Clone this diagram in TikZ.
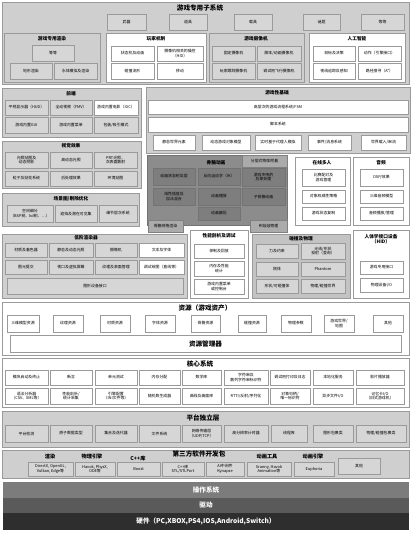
\documentclass[tikz,border=0pt]{standalone}
\usepackage{fontspec}
\setmainfont{Noto Sans CJK SC}
\definecolor{bgA}{HTML}{DADADA}
\definecolor{secg}{HTML}{CFCFCF}
\definecolor{itg}{HTML}{D6D6D6}
\definecolor{skel}{HTML}{8C8C8C}
\definecolor{skit}{HTML}{7E7E7E}
\definecolor{tabg}{HTML}{ABABAB}
\definecolor{colg}{HTML}{C3C3C3}
\definecolor{bord}{HTML}{9A9A9A}
\definecolor{osg}{HTML}{7C7C7C}
\definecolor{drg}{HTML}{5A5A5A}
\definecolor{hwg}{HTML}{2E2E2E}
\newcommand\fitm{\fontsize{3.9}{4.4}\selectfont}
\newcommand\fttl{\fontsize{4.7}{5.3}\selectfont\bfseries}
\newcommand\fbig{\fontsize{6.6}{7.2}\selectfont\bfseries}
\newcommand\bx[7][itm]{\node[#1,minimum width={#5-#3},minimum height={#6-#4}] (#2) at ({(#3+#5)/2},{(#4+#6)/2}) {#7};}
\tikzset{
 x=1pt,y=-1pt,
 sec/.style={draw=bord,fill=secg,inner sep=0},
 secw/.style={draw=bord,fill=white,inner sep=0},
 itm/.style={draw=bord,fill=itg,font=\fitm,align=center,inner sep=0.3pt},
 itmw/.style={draw=bord,fill=white,font=\fitm,align=center,inner sep=0.3pt},
 itmd/.style={draw=black!55,fill=skit,font=\fitm,align=center,inner sep=0.3pt},
 tab/.style={draw=black!50,fill=tabg,font=\fitm,align=center,inner sep=0.3pt},
 ttl/.style={font=\fttl,inner sep=0,align=center},
 big/.style={font=\fbig,inner sep=0},
 bar/.style={draw=none,inner sep=0,text=white,font=\fbig}
}
\begin{document}
\begin{tikzpicture}
\useasboundingbox (0,0) rectangle (412,539);
\fill[white] (0,0) rectangle (412,539);
% ===== game-specific subsystems
\bx[sec]{gss}{2}{2}{409}{84}{}
\node[big] (t_gss) at (200,8) {游戏专用子系统};
\bx{w1}{107}{14}{146}{30}{武器}
\bx{w2}{169}{14}{207}{30}{道具}
\bx{w3}{234}{14}{272}{30}{载具}
\bx{w4}{303}{14}{340}{30}{谜题}
\bx{w5}{361}{14}{404}{30}{等等}
\bx[sec]{gsr}{4}{33}{100}{82}{}
\node[ttl] (t_gsr) at (52,39) {游戏专用渲染};
\bx{gsr1}{32}{45}{74}{61}{等等}
\bx{gsr2}{10}{63}{52}{79}{地形渲染}
\bx{gsr3}{54}{63}{97}{79}{水体模拟及渲染}
\bx[secw]{pm}{106}{33}{206}{82}{}
\node[ttl] (t_pm) at (156,39) {玩家机制};
\bx[itmw]{pm1}{111}{46}{154}{61}{状态机及动画}
\bx[itmw]{pm2}{157}{46}{203}{61}{摄像机相关的操控\\（HID）}
\bx[itmw]{pm3}{111}{63}{154}{79}{碰撞流形}
\bx[itmw]{pm4}{157}{63}{203}{79}{移动}
\bx[sec]{gc}{209}{33}{304}{82}{}
\node[ttl] (t_gc) at (256,39) {游戏摄像机};
\bx{gc1}{212}{46}{255}{61}{固定摄像机}
\bx{gc2}{257}{46}{301}{61}{脚本/动画摄像机}
\bx{gc3}{212}{63}{255}{79}{玩家跟踪摄像机}
\bx{gc4}{257}{63}{301}{79}{调试用飞行摄像机}
\bx[secw]{ai}{309}{33}{405}{82}{}
\node[ttl] (t_ai) at (357,39) {人工智能};
\bx[itmw]{ai1}{313}{46}{355}{61}{目标及决策}
\bx[itmw]{ai2}{358}{46}{401}{61}{动作（引擎接口）}
\bx[itmw]{ai3}{313}{63}{355}{79}{视线追踪及感知}
\bx[itmw]{ai4}{358}{63}{401}{79}{路径搜寻（A*）}
% ===== front end
\bx[sec]{fe}{2}{88}{141}{137}{}
\node[ttl] (t_fe) at (71,94) {前端};
\bx{fe1}{5}{100}{48}{115}{平视显示器（HUD）}
\bx{fe2}{50}{100}{92}{115}{全动视频（FMV）}
\bx[itmw]{fe3}{94}{100}{138}{115}{游戏内置电影（IGC）}
\bx{fe4}{5}{117}{48}{133}{游戏内置GUI}
\bx{fe5}{50}{117}{92}{133}{游戏内置菜单}
\bx{fe6}{94}{117}{138}{133}{包装/吸引模式}
% ===== gameplay foundations
\bx[sec]{gf}{146}{87}{410}{153}{}
\node[ttl] (t_gf) at (277,93) {游戏性基础};
\bx[itmw]{gf1}{148}{100}{408}{114}{高层次的游戏流程系统/FSM}
\bx[itmw]{gf2}{148}{117}{408}{132}{脚本系统}
\bx[itmw]{gf3}{153}{135}{195}{150}{静态世界元素}
\bx[itmw]{gf4}{202}{135}{250}{150}{动态游戏对象模型}
\bx[itmw]{gf5}{255}{135}{301}{150}{实时基于代理人模拟}
\bx[itmw]{gf6}{308}{135}{351}{150}{事件/消息系统}
\bx[itmw]{gf7}{361}{135}{406}{150}{世界载入/串流}
% ===== visual effects
\bx[sec]{vfx}{2}{141}{141}{188}{}
\node[ttl] (t_vfx) at (71,146) {视觉效果};
\bx{vfx1}{5}{152}{48}{168}{光照贴图及\\动态阴影}
\bx{vfx2}{50}{152}{92}{168}{高动态光照}
\bx{vfx3}{94}{152}{137}{168}{PRT光照，\\次表面散射}
\bx{vfx4}{5}{171}{48}{186}{粒子及贴花系统}
\bx{vfx5}{50}{171}{92}{186}{后处理效果}
\bx{vfx6}{94}{171}{137}{186}{环境贴图}
% ===== scene graph
\bx[sec]{sg}{2}{193}{139}{226}{}
\node[ttl] (t_sg) at (71,199) {场景图/剔除优化};
\bx{sg1}{7}{205}{53}{222}{空间细分\\（BSP树、kd树、…）}
\bx{sg2}{55}{205}{97}{222}{遮挡及潜在可见集}
\bx{sg3}{99}{205}{137}{222}{细节层次系统}
% ===== skeletal animation
\node[draw=black!55,fill=skel,minimum width=140,minimum height=70,inner sep=0] (sk) at (217,190) {};
\node[ttl] (t_sk) at (216,163) {骨骼动画};
\bx[tab]{sk0}{242}{155}{287}{167}{分层式物体附着}
\bx[itmd]{sk1}{153}{168}{195}{185}{动画状态树及层}
\bx[itmd]{sk2}{198}{168}{240}{185}{反向运动学（IK）}
\bx[itmd]{sk3}{242}{168}{285}{186}{游戏专用的\\后期处理}
\bx[itmd]{sk4}{153}{188}{195}{205}{线性插值及\\加法混合}
\bx[itmd]{sk5}{198}{188}{240}{205}{动画播放}
\bx[itmd]{sk6}{242}{188}{285}{205}{子骨骼动画}
\bx[itmd]{sk7}{198}{207}{240}{220}{动画解压}
\bx[tab]{sk8}{148}{220}{183}{232}{骨骼网格渲染}
\bx[tab]{sk9}{250}{220}{287}{232}{布娃娃物理}
% ===== online multiplayer
\bx[secw]{om}{295}{157}{350}{225}{}
\node[ttl] (t_om) at (322,163) {在线多人};
\bx[itmw]{om1}{302}{169}{345}{186}{比赛配对及\\游戏管理}
\bx[itmw]{om2}{302}{190}{345}{203}{对象权威性策略}
\bx[itmw]{om3}{302}{207}{345}{220}{游戏状态复制}
% ===== audio
\bx[secw]{au}{353}{157}{409}{225}{}
\node[ttl] (t_au) at (381,163) {音频};
\bx[itmw]{au1}{360}{169}{403}{186}{DSP/效果}
\bx[itmw]{au2}{360}{190}{403}{203}{三维音频模型}
\bx[itmw]{au3}{360}{207}{403}{220}{音频播放/管理}
% ===== low-level renderer
\bx[sec]{llr}{2}{234}{187}{298}{}
\node[ttl] (t_llr) at (86,238) {低阶渲染器};
\bx{llr1}{5}{243}{47}{257}{材质及着色器}
\bx{llr2}{49}{243}{93}{257}{静态及动态光照}
\bx{llr3}{95}{243}{137}{257}{摄像机}
\bx[itmw]{llr4}{139}{243}{184}{257}{文本及字体}
\bx{llr5}{5}{260}{47}{274}{图元提交}
\bx{llr6}{49}{260}{93}{274}{视口及虚拟屏幕}
\bx{llr7}{95}{260}{137}{274}{纹理及表面管理}
\bx[itmw]{llr8}{139}{260}{184}{274}{调试绘图（直线等）}
\bx{llr9}{7}{278}{183}{294}{图形设备接口}
% ===== profiling
\bx[secw]{pd}{190}{230}{248}{298}{}
\node[ttl] (t_pd) at (219,236) {性能剖析及调试};
\bx[itmw]{pd1}{194}{244}{244}{258}{录制及回放}
\bx[itmw]{pd2}{194}{261}{244}{276}{内存及性能\\统计}
\bx[itmw]{pd3}{194}{279}{244}{294}{游戏内置菜单\\或控制台}
% ===== collision & physics
\node[draw=bord,fill=colg,minimum width=98,minimum height=64,inner sep=0] (cp) at (301,266) {};
\node[ttl] (t_cp) at (301,239) {碰撞及物理};
\bx{cp1}{256}{244}{298}{258}{力及约束}
\bx{cp2}{301}{243}{345}{259}{光线/形状\\投射（查询）}
\bx{cp3}{256}{262}{298}{276}{刚体}
\bx{cp4}{301}{262}{345}{276}{Phantom}
\bx{cp5}{256}{279}{298}{293}{形状/可碰撞体}
\bx{cp6}{301}{279}{345}{293}{物理/碰撞世界}
% ===== HID
\bx[secw]{hid}{353}{230}{409}{298}{}
\node[ttl] (t_hid) at (381,239) {人体学接口设备\\（HID）};
\bx[itmw]{hid1}{360}{261}{403}{274}{游戏专用接口}
\bx[itmw]{hid2}{360}{278}{403}{292}{物理设备I/O}
% ===== resources
\bx[secw]{res}{2}{302}{409}{355}{}
\node[big] (t_res) at (205,308) {资源（游戏资产）};
\bx[itmw]{r1}{7}{315}{39}{332}{三维模型资源}
\bx[itmw]{r2}{53}{315}{83}{332}{纹理资源}
\bx[itmw]{r3}{100}{315}{130}{332}{材质资源}
\bx[itmw]{r4}{145}{315}{175}{332}{字体资源}
\bx[itmw]{r5}{191}{315}{220}{332}{骨骼资源}
\bx[itmw]{r6}{238}{315}{266}{332}{碰撞资源}
\bx[itmw]{r7}{281}{315}{311}{332}{物理参数}
\bx[itmw]{r8}{324}{315}{354}{332}{游戏世界/\\地图}
\bx[itmw]{r9}{373}{315}{403}{332}{其他}
\node[draw=bord,fill=white,minimum width=391,minimum height=17,inner sep=0,font=\fbig] (rm) at (205.5,343.5) {资源管理器};
% ===== core systems
\bx[secw]{core}{2}{358}{409}{407}{}
\node[big] (t_core) at (200,364) {核心系统};
\bx[itmw]{c1}{5}{370}{48}{385}{模块启动及终止}
\bx[itmw]{c2}{50}{370}{92}{385}{断言}
\bx[itmw]{c3}{95}{370}{137}{385}{单元测试}
\bx[itmw]{c4}{139}{370}{180}{385}{内存分配}
\bx[itmw]{c5}{182}{370}{221}{385}{数学库}
\bx[itmw]{c6}{224}{370}{268}{385}{字符串及\\散列字符串标识符}
\bx[itmw]{c7}{270}{370}{310}{385}{调试用打印及日志}
\bx[itmw]{c8}{313}{370}{353}{385}{本地化服务}
\bx[itmw]{c9}{356}{370}{404}{385}{影片播放器}
\bx[itmw]{c10}{5}{388}{48}{404}{语法分析器\\（CSV、XML等）}
\bx[itmw]{c11}{50}{388}{92}{404}{性能剖析/\\统计采集}
\bx[itmw]{c12}{95}{388}{137}{404}{引擎配置\\（INI文件等）}
\bx[itmw]{c13}{139}{388}{180}{404}{随机数生成器}
\bx[itmw]{c14}{182}{388}{221}{404}{曲线及曲面库}
\bx[itmw]{c15}{224}{388}{268}{404}{RTTI/反射/序列化}
\bx[itmw]{c16}{270}{388}{310}{404}{对象句柄/\\唯一标识符}
\bx[itmw]{c17}{313}{388}{353}{404}{异步文件I/O}
\bx[itmw]{c18}{356}{388}{404}{404}{记忆卡I/O\\（旧式游戏机）}
% ===== platform independence
\bx[sec]{pil}{2}{411}{409}{447}{}
\node[big] (t_pil) at (203,418) {平台独立层};
\bx{p1}{5}{425}{48}{442}{平台检测}
\bx{p2}{50}{425}{92}{442}{原子数据类型}
\bx{p3}{95}{425}{137}{442}{集合及迭代器}
\bx{p4}{139}{425}{180}{442}{文件系统}
\bx{p5}{182}{425}{221}{442}{网络传输层\\（UDP/TCP）}
\bx{p6}{224}{425}{268}{442}{高分辨率计时器}
\bx{p7}{271}{425}{307}{442}{线程库}
\bx{p8}{313}{425}{353}{442}{图形包裹类}
\bx{p9}{356}{425}{406}{442}{物理/碰撞包裹类}
% ===== third party SDKs
\bx[sec]{sdk}{2}{450}{409}{478}{}
\node[big] (t_sdk) at (199,454) {第三方软件开发包};
\node[ttl,font=\fontsize{5.2}{6}\selectfont\bfseries] (h1) at (50,457) {渲染};
\node[ttl,font=\fontsize{5.2}{6}\selectfont\bfseries] (h2) at (92,457) {物理引擎};
\node[ttl,font=\fontsize{5.2}{6}\selectfont\bfseries] (h3) at (138,459) {C++库};
\node[ttl,font=\fontsize{5.2}{6}\selectfont\bfseries] (h4) at (267,457) {动画工具};
\node[ttl,font=\fontsize{5.2}{6}\selectfont\bfseries] (h5) at (313,457) {动画引擎};
\bx{s1}{28}{462}{73}{476}{DirectX, OpenGL,\\Vulkan, Edge等}
\bx{s2}{75}{462}{115}{476}{Havok, PhysX,\\ODE等}
\bx{s3}{117}{462}{160}{476}{Boost}
\bx{s4}{162}{462}{204}{476}{C++库\\STL/STLPort}
\bx{s5}{206}{462}{244}{476}{AI中间件\\Kynapse}
\bx{s6}{247}{462}{291}{476}{Granny, Havok\\Animation等}
\bx{s7}{294}{462}{334}{476}{Euphoria}
\bx{s8}{338}{458}{380}{474}{其他}
% ===== OS / drivers / hardware
\node[bar,fill=osg,minimum width=406,minimum height=16] (os) at (206,490) {操作系统};
\node[bar,fill=drg,minimum width=406,minimum height=15] (drv) at (206,505.5) {驱动};
\node[bar,fill=hwg,minimum width=406,minimum height=17] (hw) at (206,521.5) {硬件（PC,XBOX,PS4,IOS,Android,Switch）};
\end{tikzpicture}
\end{document}
